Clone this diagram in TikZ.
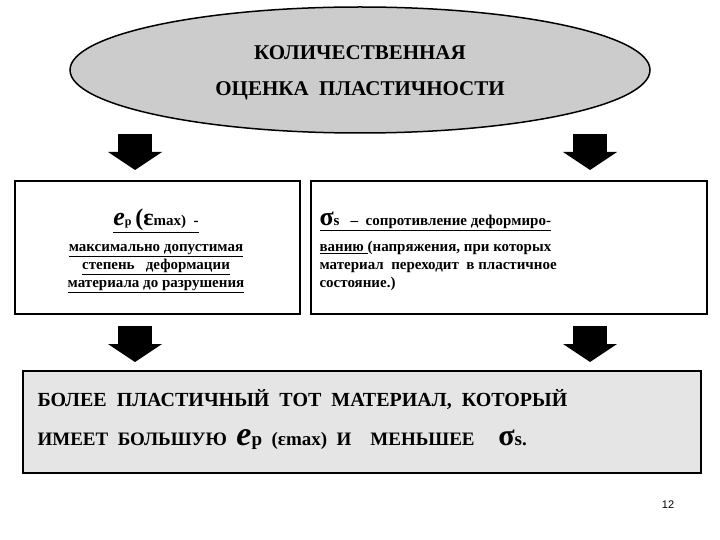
\documentclass[tikz,border=0pt]{standalone}
\usepackage{fontspec}
\usetikzlibrary{shapes.geometric}
\setmainfont{Liberation Serif}[BoldFont={Liberation Serif Bold},ItalicFont={Liberation Serif Italic},BoldItalicFont={Liberation Serif Bold Italic}]
\newfontfamily\sansf{Liberation Sans}
\begin{document}
\begin{tikzpicture}[x=1pt,y=-1pt,
  boxst/.style={draw,line width=1.6pt},
  txt/.style={font=\rmfamily\bfseries\fontsize{16}{20}\selectfont,align=left,anchor=west}]
\useasboundingbox (0,0) rectangle (720,540);
\node[ellipse,draw,line width=1.5pt,fill=gray!40,minimum width=580,minimum height=126,inner sep=0] (head) at (360,70) {};
\node[font=\rmfamily\bfseries\fontsize{21}{36}\selectfont,align=center] (ht) at (360,73) {КОЛИЧЕСТВЕННАЯ\\ОЦЕНКА\ \ ПЛАСТИЧНОСТИ};
\def\blockarrow#1#2{\fill (#1-17,#2) rectangle (#1+17,#2+20); \fill (#1-27,#2+18) -- (#1+27,#2+18) -- (#1,#2+36) -- cycle;}
\blockarrow{135}{134}
\blockarrow{590}{134}
\blockarrow{135}{326}
\blockarrow{590}{326}
\node[boxst,minimum width=285,minimum height=133,anchor=north west] (lb) at (14,180) {};
\node[boxst,minimum width=396,minimum height=133,anchor=north west] (rb) at (310,180) {};
\node[font=\rmfamily\bfseries\fontsize{15}{18}\selectfont,align=center] (lt) at (156,251) {\underline{{\fontsize{26}{26}\selectfont\itshape e}{\fontsize{12}{12}\selectfont р} {\fontsize{24}{24}\selectfont (ɛ}max)\ \ -}\\[8pt]\underline{максимально допустимая}\\\underline{степень\ \ \ деформации}\\\underline{материала до разрушения}};
\node[txt,font=\rmfamily\bfseries\fontsize{15}{18}\selectfont] (rt) at (316,251) {\underline{{\fontsize{26}{26}\selectfont σ}s\ \ \ –\ \ сопротивление деформиро-}\\[8pt]\underline{ванию }(напряжения, при которых\\материал\ \ переходит\ \ в пластичное\\состояние.)};
\node[boxst,fill=gray!20,minimum width=678,minimum height=102,anchor=north west] (bb) at (22,370) {};
\node[font=\rmfamily\bfseries\fontsize{20}{24}\selectfont,anchor=west] (b1) at (34,400) {БОЛЕЕ\ \ ПЛАСТИЧНЫЙ\ \ ТОТ\ \ МАТЕРИАЛ,\ \ КОТОРЫЙ};
\node[font=\rmfamily\bfseries\fontsize{19}{24}\selectfont,anchor=west] (b2) at (34,440) {ИМЕЕТ\ \ БОЛЬШУЮ\ \ {\fontsize{34}{34}\selectfont\itshape e}р\ \ (ɛmax)\ \ И\ \ \ \ МЕНЬШЕЕ\ \ \ \ \ {\fontsize{30}{30}\selectfont σ}s.};
\node[font=\sansf\fontsize{11}{11}\selectfont] (pn) at (668,505) {12};
\end{tikzpicture}
\end{document}
